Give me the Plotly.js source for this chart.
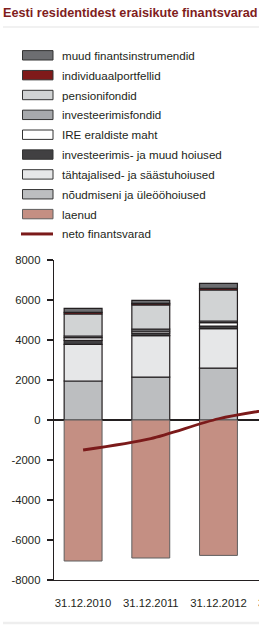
<!DOCTYPE html>
<html>
<head>
<meta charset="utf-8">
<script src="https://cdn.plot.ly/plotly-3.0.1.min.js"></script>
<style>
html,body{margin:0;padding:0;overflow:hidden;background:#fff;}
#chart{width:320px;height:638px;}
</style>
</head>
<body>
<div id="chart"></div>
<script>
// ---- data ----
var categories = ['31.12.2010', '31.12.2011', '31.12.2012', '31.12.2013'];
var noudmiseni   = [1950, 2140, 2590, null];
var tahtajalised = [1830, 2080, 1980, null];
var invHoiused   = [200, 130, 130, null];
var ireMaht      = [140, 90, 170, null];
var invFondid    = [80, 100, 80, null];
var pensionifondid = [1100, 1215, 1550, null];
var individuaal  = [85, 80, 80, null];
var muud         = [200, 150, 250, null];
var laenud       = [-7050, -6900, -6770, null];
var neto         = [-1500, -930, 63, 650];
var yTicks = [-8000, -6000, -4000, -2000, 0, 2000, 4000, 6000, 8000];

var names = {
  muud: 'muud finantsinstrumendid',
  individuaal: 'individuaalportfellid',
  pension: 'pensionifondid',
  invFondid: 'investeerimisfondid',
  ire: 'IRE eraldiste maht',
  invHoiused: 'investeerimis- ja muud hoiused',
  taht: 'tähtajalised- ja säästuhoiused',
  noud: 'nõudmiseni ja üleööhoiused',
  laenud: 'laenud',
  neto: 'neto finantsvarad'
};
var colors = {
  muud: '#6d6e71', individuaal: '#7f1a1a', pension: '#d1d3d4', invFondid: '#a7a9ac',
  ire: '#ffffff', invHoiused: '#414042', taht: '#e6e7e8', noud: '#bcbec0',
  laenud: '#c48f83', neto: '#7b1a1a'
};

var W = 320, H = 638, L = 54, T = 260, B = 58;
var plotW = W - L, plotH = H - T - B;
function px(x) { return (x - L) / plotW; }
function py(y) { return (T + plotH - y) / plotH; }

var edge = '#231f20';
function bar(key, vals, lineColor, lw) {
  return {
    type: 'bar', x: categories, y: vals, name: names[key],
    marker: {color: colors[key], line: {color: lineColor || edge, width: lw || 1.2}},
    showlegend: false, hoverinfo: 'none'
  };
}
var data = [
  bar('noud', noudmiseni),
  bar('taht', tahtajalised),
  bar('invHoiused', invHoiused),
  bar('ire', ireMaht),
  bar('invFondid', invFondid),
  bar('pension', pensionifondid),
  bar('individuaal', individuaal),
  bar('muud', muud),
  bar('laenud', laenud, '#5e5e5e', 1),
  {
    type: 'scatter', mode: 'lines', x: categories, y: neto, name: names.neto,
    line: {color: colors.neto, width: 2.8, shape: 'spline', smoothing: 0.8},
    showlegend: false, hoverinfo: 'none', cliponaxis: true
  }
];

// manual legend
var legendOrder = ['muud', 'individuaal', 'pension', 'invFondid', 'ire', 'invHoiused', 'taht', 'noud', 'laenud', 'neto'];
var shapes = [], annotations = [];
legendOrder.forEach(function (k, i) {
  var cy = 55.3 + i * 19.85;
  if (k === 'neto') {
    shapes.push({type: 'line', xref: 'paper', yref: 'paper', x0: px(21), x1: px(53), y0: py(cy), y1: py(cy),
      line: {color: colors.neto, width: 3}});
  } else {
    shapes.push({type: 'rect', xref: 'paper', yref: 'paper', x0: px(22.5), x1: px(53), y0: py(cy - 4.7), y1: py(cy + 4.7),
      fillcolor: colors[k], line: {color: k === 'laenud' ? '#5e5e5e' : '#333333', width: 1}});
  }
  annotations.push({xref: 'paper', yref: 'paper', x: px(60), y: py(cy), xanchor: 'left', yanchor: 'middle',
    text: names[k], showarrow: false, font: {family: 'Liberation Sans, Arial, sans-serif', size: 11.6, color: '#231f20'}});
});
// separators
shapes.push({type: 'line', xref: 'paper', yref: 'paper', x0: px(3), x1: px(W), y0: py(27), y1: py(27),
  line: {color: '#e3e3e3', width: 1.2}});
shapes.push({type: 'line', xref: 'paper', yref: 'paper', x0: px(3), x1: px(W), y0: py(623), y1: py(623),
  line: {color: '#eeeeee', width: 2.5}});

var layout = {
  width: W, height: H,
  margin: {l: L, r: 0, t: T, b: B, pad: 0},
  paper_bgcolor: '#ffffff', plot_bgcolor: '#ffffff',
  barmode: 'relative', bargap: 0.44,
  showlegend: false,
  font: {family: 'Liberation Sans, Arial, sans-serif', color: '#231f20', size: 11.3},
  title: {
    text: '<b>Eesti residentidest eraisikute finantsvarad</b>',
    xref: 'container', yref: 'container', x: 3 / W, xanchor: 'left', y: 1 - 12.5 / H, yanchor: 'middle',
    font: {family: 'Liberation Sans, Arial, sans-serif', size: 12.7, color: '#7f1d1d'}
  },
  xaxis: {
    type: 'category', range: [-0.43, 3.5],
    showline: true, linecolor: '#231f20', linewidth: 1.3,
    ticks: 'outside', ticklen: 12, tickcolor: 'rgba(0,0,0,0)',
    showgrid: false, zeroline: false, fixedrange: true,
    tickfont: {size: 11.3, color: '#231f20'}
  },
  yaxis: {
    range: [-8000, 8000], tickvals: yTicks, ticktext: yTicks.map(String),
    showline: true, linecolor: '#231f20', linewidth: 1.3,
    ticks: 'outside', ticklen: 6, tickcolor: '#231f20', tickwidth: 1.3,
    ticklabelstandoff: 4,
    showgrid: false, zeroline: true, zerolinecolor: '#231f20', zerolinewidth: 1.3,
    fixedrange: true, tickfont: {size: 11.3, color: '#231f20'}
  },
  shapes: shapes,
  annotations: annotations
};

Plotly.newPlot('chart', data, layout, {staticPlot: true, displayModeBar: false});
</script>
</body>
</html>
